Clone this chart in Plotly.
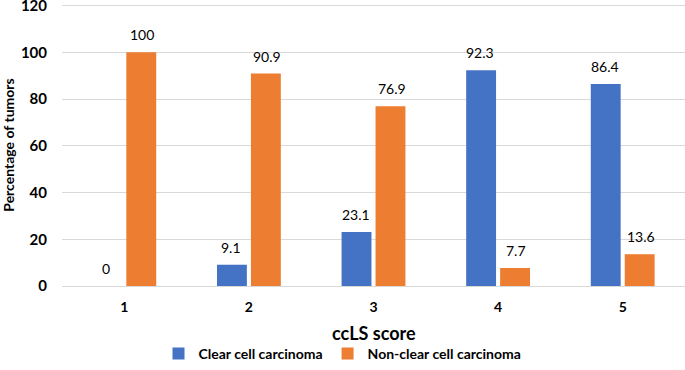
import plotly.graph_objects as go

categories = ["1", "2", "3", "4", "5"]
clear_cell = [0, 9.1, 23.1, 92.3, 86.4]
non_clear_cell = [100, 90.9, 76.9, 7.7, 13.6]
clear_labels = ["0", "9.1", "23.1", "92.3", "86.4"]
non_clear_labels = ["100", "90.9", "76.9", "7.7", "13.6"]
y_ticks = [0, 20, 40, 60, 80, 100, 120]
x_title = "ccLS score"
y_title = "Percentage of tumors"

FONT = "Lato, Carlito, Calibri, 'Liberation Sans', sans-serif"
BLUE = "#4472C4"
ORANGE = "#ED7D31"

fig = go.Figure()
fig.add_trace(go.Bar(
    x=categories, y=clear_cell, name="Clear cell carcinoma",
    marker=dict(color=BLUE, line=dict(width=0)),
))
fig.add_trace(go.Bar(
    x=categories, y=non_clear_cell, name="Non-clear cell carcinoma",
    marker=dict(color=ORANGE, line=dict(width=0)),
))

# value labels anchored to each bar's top through the axes
# (category axis positions are the category indices)
for series, labels, shift in ((clear_cell, clear_labels, -18), (non_clear_cell, non_clear_labels, 18)):
    for idx, (val, lab) in enumerate(zip(series, labels)):
        fig.add_annotation(
            x=idx, y=val, xref="x", yref="y", text=lab, showarrow=False,
            xanchor="center", yanchor="bottom", xshift=shift, yshift=7,
            font=dict(family=FONT, size=14, color="#000000"),
        )

# x-axis title, placed below the tick labels
fig.add_annotation(
    x=0.5, y=0, xref="paper", yref="paper", text=x_title, showarrow=False,
    xanchor="center", yanchor="middle", yshift=-47,
    font=dict(family=FONT, size=18, color="#000000", weight="bold"),
)

fig.update_layout(
    width=685, height=370,
    margin=dict(l=62, r=0, t=4, b=84, autoexpand=False),
    paper_bgcolor="white", plot_bgcolor="white",
    barmode="group", bargap=0.455, bargroupgap=0.12,
    font=dict(family=FONT, color="#000000"),
    showlegend=True,
    legend=dict(
        orientation="h", x=0.5, xanchor="center", xref="container",
        y=0.0, yanchor="bottom", yref="container",
        font=dict(family=FONT, size=14, color="#000000", weight="bold"),
        itemwidth=30, tracegroupgap=0,
    ),
)
fig.update_xaxes(
    type="category", automargin=False, range=[-0.5, 4.5],
    showgrid=False, showline=True, linecolor="#D9D9D9", linewidth=1,
    ticks="", tickfont=dict(family=FONT, size=14, color="#000000", weight="bold"),
    ticklabelstandoff=8,
)
fig.update_yaxes(
    range=[0, 120.64], tickvals=y_ticks, automargin=False,
    showgrid=True, gridcolor="#D9D9D9", gridwidth=1,
    zeroline=False, showline=False, ticks="",
    tickfont=dict(family=FONT, size=15, color="#000000", weight="bold"),
    ticklabelstandoff=14, ticklabeloverflow="allow",
    title=dict(text=y_title, font=dict(family=FONT, size=14, color="#000000", weight="bold"), standoff=8),
)

fig.write_html(
    "out.html",
    config={"displayModeBar": False},
    post_script="document.body.style.margin='0';document.body.style.overflow='hidden';",
)
